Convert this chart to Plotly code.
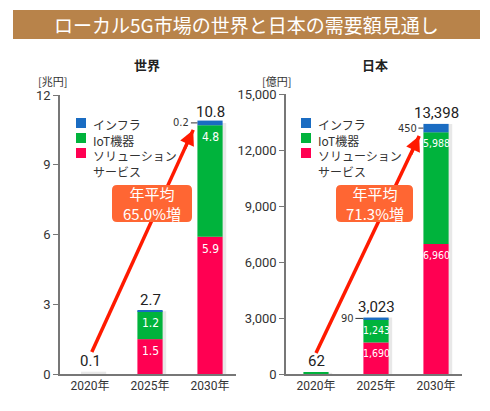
import plotly.graph_objects as go

# ---------------- data ----------------
years = ["2020年", "2025年", "2030年"]
cats = [0, 1, 2]

world_solution = [0.0, 1.5, 5.9]
world_iot = [0.0, 1.2, 4.8]
world_infra = [0.0, 0.03, 0.2]
world_total = [0.1, 2.7, 10.8]
world_total_labels = ["0.1", "2.7", "10.8"]
world_solution_labels = ["", "1.5", "5.9"]
world_iot_labels = ["", "1.2", "4.8"]
world_infra_labels = ["", "", "0.2"]
world_growth = "年平均<br>65.0%増"

japan_solution = [0, 1690, 6960]
japan_iot = [62, 1243, 5988]
japan_infra = [0, 90, 450]
japan_total = [62, 3023, 13398]
japan_total_labels = ["62", "3,023", "13,398"]
japan_solution_labels = ["", "1,690", "6,960"]
japan_iot_labels = ["", "1,243", "5,988"]
japan_infra_labels = ["", "90", "450"]
japan_growth = "年平均<br>71.3%増"

legend_names = ["インフラ", "IoT機器", "ソリューション", "サービス"]

# ---------------- style ----------------
W, H = 490, 411
C_INFRA = "#1a6cc2"
C_IOT = "#00b33c"
C_SOL = "#ff0052"
C_ARROW = "#ff1a00"
C_BOX = "#ff6633"
C_TITLE = "#b8834a"
TXT = "#333333"
FONT = "Roboto, Noto Sans CJK JP, sans-serif"
NARROW = "DejaVu Sans Condensed, Roboto Condensed, Roboto, sans-serif"
JFONT = "Noto Sans CJK JP, sans-serif"
BW = 0.42


def px(x):
    return x / W


def py(y):
    return 1 - y / H


fig = go.Figure()


def add_stack(xa, ya, sol, iot, infra, total):
    base_iot = [s for s in sol]
    base_inf = [s + i for s, i in zip(sol, iot)]
    fig.add_trace(go.Bar(x=[c + 0.06 for c in cats], y=total, width=BW, base=[0, 0, 0],
                         marker=dict(color="rgba(0,0,0,0.09)", line_width=0),
                         xaxis=xa, yaxis=ya, showlegend=False, hoverinfo="skip"))
    fig.add_trace(go.Bar(x=cats, y=sol, width=BW, base=[0, 0, 0],
                         marker=dict(color=C_SOL, line_width=0), xaxis=xa, yaxis=ya, showlegend=False))
    fig.add_trace(go.Bar(x=cats, y=iot, width=BW, base=base_iot,
                         marker=dict(color=C_IOT, line_width=0), xaxis=xa, yaxis=ya, showlegend=False))
    fig.add_trace(go.Bar(x=cats, y=infra, width=BW, base=base_inf,
                         marker=dict(color=C_INFRA, line_width=0), xaxis=xa, yaxis=ya, showlegend=False))
    return base_iot, base_inf


w_biot, w_binf = add_stack("x", "y", world_solution, world_iot, world_infra, world_total)
j_biot, j_binf = add_stack("x2", "y2", japan_solution, japan_iot, japan_infra, japan_total)

ann = []
shapes = []


def ptext(x, y, text, size, color=TXT, family=JFONT, xa="center", ya="middle", align="center"):
    ann.append(dict(xref="paper", yref="paper", x=px(x), y=py(y), text=text, showarrow=False,
                    xanchor=xa, yanchor=ya, align=align,
                    font=dict(family=family, size=size, color=color)))


# title bar
shapes.append(dict(type="rect", xref="paper", yref="paper", x0=px(13), x1=px(480), y0=py(39), y1=py(10),
                   fillcolor=C_TITLE, line_width=0, layer="above"))
ptext(246, 24.5, "ローカル5G市場の世界と日本の需要額見通し", 19, color="white")

# subtitles and units
ptext(147, 64, "<b>世界</b>", 13, color="#222")
ptext(375, 64, "<b>日本</b>", 13, color="#222")
ptext(52, 81, "[兆円]", 11)
ptext(276, 81, "[億円]", 11)


def add_labels(xa, ya, sol, iot, infra, total, biot, binf, tl, sl, il, fl, insize):
    for i, c in enumerate(cats):
        ann.append(dict(xref=xa, yref=ya, x=c, y=total[i] if i else 0, text=tl[i], showarrow=False,
                        xanchor="center", yanchor="bottom", yshift=(0 if i else 2),
                        font=dict(family=FONT, size=15, color="#222")))
        if sl[i]:
            ann.append(dict(xref=xa, yref=ya, x=c, y=sol[i], text=sl[i], showarrow=False, xanchor="center",
                            yanchor="top", yshift=-3, font=dict(family=NARROW, size=insize, color="white")))
        if il[i]:
            ann.append(dict(xref=xa, yref=ya, x=c, y=biot[i] + iot[i], text=il[i], showarrow=False,
                            xanchor="center", yanchor="top", yshift=-3,
                            font=dict(family=NARROW, size=insize, color="white")))
        if fl[i]:
            ann.append(dict(xref=xa, yref=ya, x=c - BW / 2, y=binf[i] + infra[i] / 2, text=fl[i],
                            showarrow=True, arrowhead=0, arrowwidth=1, arrowcolor=TXT, ax=-16, ay=0,
                            standoff=0, font=dict(family=NARROW, size=11, color=TXT)))


add_labels("x", "y", world_solution, world_iot, world_infra, world_total, w_biot, w_binf,
           world_total_labels, world_solution_labels, world_iot_labels, world_infra_labels, 12)
add_labels("x2", "y2", japan_solution, japan_iot, japan_infra, japan_total, j_biot, j_binf,
           japan_total_labels, japan_solution_labels, japan_iot_labels, japan_infra_labels, 10.5)

# legends: one text block per chart
for lx, tx in [(76, 91), (301, 316)]:
    for (yc, col) in [(123, C_INFRA), (138, C_IOT), (153, C_SOL)]:
        shapes.append(dict(type="rect", xref="paper", yref="paper", x0=px(lx), x1=px(lx + 10),
                           y0=py(yc + 5), y1=py(yc - 5), fillcolor=col, line_width=0, layer="above"))
    ptext(tx, 114, "<br>".join(legend_names), 12, xa="left", ya="top", align="left")


def rounded_rect(x0, y0, x1, y1, r):
    X0, X1 = px(x0), px(x1)
    Y0, Y1 = py(y0), py(y1)
    rx, ry = r / W, r / H
    return (f"M {X0+rx},{Y0} L {X1-rx},{Y0} Q {X1},{Y0} {X1},{Y0-ry} L {X1},{Y1+ry} "
            f"Q {X1},{Y1} {X1-rx},{Y1} L {X0+rx},{Y1} Q {X0},{Y1} {X0},{Y1+ry} L {X0},{Y0-ry} "
            f"Q {X0},{Y0} {X0+rx},{Y0} Z")


for xa, ya, (x0, y0, x1, y1), box, text in [
    ("x", "y", (0.03, 0.95, 1.72, 10.5), (112, 185, 192, 222), world_growth),
    ("x2", "y2", (0.0, 1125, 1.72, 12750), (336, 185, 413, 222), japan_growth),
]:
    shapes.append(dict(type="line", xref=xa, yref=ya, x0=x0, y0=y0, x1=x1, y1=y1,
                       line=dict(color=C_ARROW, width=3.5), layer="above"))
    ann.append(dict(xref=xa, yref=ya, x=x1, y=y1, ax=-9, ay=20, text="", showarrow=True,
                    arrowhead=2, arrowsize=1, arrowwidth=3, arrowcolor=C_ARROW, standoff=0))
    shapes.append(dict(type="path", xref="paper", yref="paper", path=rounded_rect(*box, 5),
                       fillcolor=C_BOX, line_width=0, layer="above"))
    ptext((box[0] + box[2]) / 2, (box[1] + box[3]) / 2, text, 15, color="white")

axis_common = dict(showline=True, linecolor="#777", linewidth=1.5, showgrid=False, zeroline=False,
                   automargin=False, fixedrange=True)
fig.update_layout(
    width=W, height=H, margin=dict(l=0, r=0, t=0, b=0, pad=0), autosize=False,
    paper_bgcolor="white", plot_bgcolor="rgba(0,0,0,0)",
    barmode="overlay", showlegend=False,
    xaxis=dict(domain=[px(60), px(236)], range=[-0.5, 2.433], tickvals=cats, ticktext=years,
               ticks="", tickfont=dict(family=FONT, size=12, color=TXT), **axis_common),
    yaxis=dict(domain=[py(374), py(95)], range=[0, 12], tickvals=[0, 3, 6, 9, 12], ticks="outside",
               ticklen=5, tickcolor="#777", tickfont=dict(family=FONT, size=13, color=TXT), **axis_common),
    xaxis2=dict(domain=[px(286), px(462)], range=[-0.5, 2.433], tickvals=cats, ticktext=years,
                ticks="", anchor="y2", tickfont=dict(family=FONT, size=12, color=TXT), **axis_common),
    yaxis2=dict(domain=[py(374), py(94)], range=[0, 15000], tickvals=[0, 3000, 6000, 9000, 12000, 15000],
                tickformat=",", ticks="outside", ticklen=5, tickcolor="#777", anchor="x2",
                tickfont=dict(family=FONT, size=13, color=TXT), **axis_common),
    shapes=shapes, annotations=ann,
)

fig.write_html("out.html", config={"displayModeBar": False},
               post_script="document.body.style.margin='0';")
